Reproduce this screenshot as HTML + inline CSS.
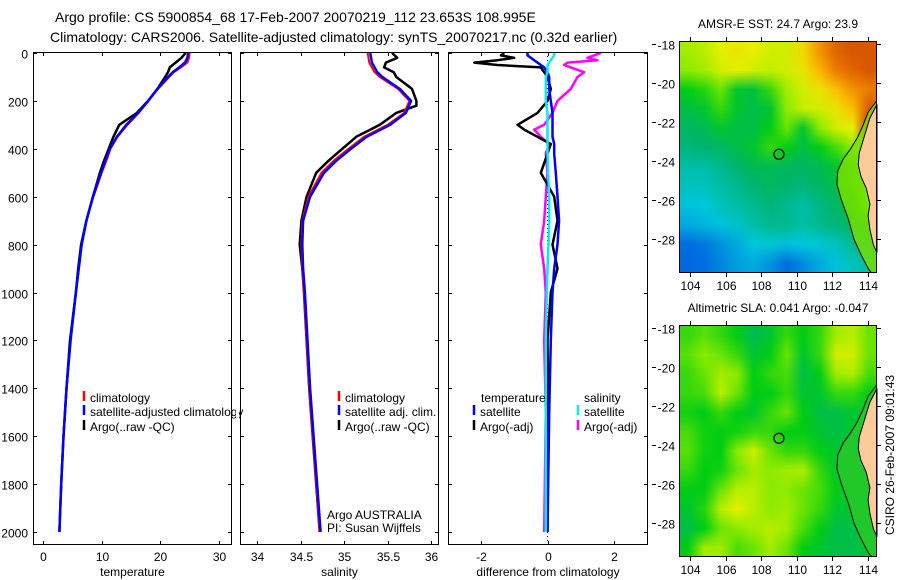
<!DOCTYPE html>
<html><head><meta charset="utf-8"><style>
html,body{margin:0;padding:0;background:#fff;}
svg{display:block;font-family:"Liberation Sans",sans-serif;}
canvas{position:absolute;image-rendering:auto;}
</style></head><body>
<div style="position:relative;width:900px;height:580px;overflow:hidden">
<canvas id="sstMap" width="12" height="12" style="left:679px;top:41px;width:198px;height:231px"></canvas>
<canvas id="slaMap" width="12" height="12" style="left:679px;top:325px;width:198px;height:232px"></canvas>
<svg id="fig" width="900" height="580" style="position:absolute;left:0;top:0"></svg>
</div>
<script>
// ---- profile data ----
const depthT=[0,20,40,60,80,100,150,200,250,300,350,400,450,500,600,700,800,900,1000,1200,1400,1600,1800,2000];
const tClim=[25.0,24.9,24.6,23.5,22.3,21.5,19.6,18.0,16.3,14.4,12.7,11.5,10.8,10.0,8.6,7.4,6.6,6.1,5.6,4.7,4.0,3.5,3.1,2.8];
const tSat=[24.7,24.6,24.2,23.2,22.1,21.3,19.5,17.9,16.2,14.2,12.6,11.4,10.6,9.9,8.5,7.4,6.6,6.1,5.6,4.7,4.0,3.5,3.1,2.8];
const tArgo=[24.3,23.6,22.6,21.6,21.3,20.8,19.5,17.9,16.0,13.0,12.0,11.2,10.4,9.7,8.5,7.4,6.5,6.0,5.6,4.6,4.0,3.5,3.1,2.8];
const depthS=[0,20,40,60,80,100,150,200,250,300,350,400,450,500,600,700,800,900,1000,1200,1400,1600,1800,2000];
const sClim=[35.27,35.28,35.29,35.32,35.35,35.41,35.62,35.75,35.69,35.50,35.23,35.05,34.88,34.74,34.59,34.52,34.51,34.52,34.54,34.57,34.60,34.64,34.68,34.72];
const sSat=[35.30,35.31,35.32,35.35,35.38,35.44,35.64,35.77,35.71,35.53,35.26,35.08,34.91,34.77,34.61,34.53,34.52,34.53,34.55,34.58,34.61,34.65,34.69,34.73];
const depthSA=[0,20,40,60,80,100,150,200,220,250,300,350,400,450,500,600,700,800,900,1000,1200,1400,1600,1800,2000];
const sArgo=[35.55,35.61,35.48,35.46,35.57,35.60,35.78,35.83,35.83,35.60,35.41,35.14,34.98,34.82,34.68,34.57,34.51,34.49,34.52,34.54,34.57,34.60,34.64,34.68,34.72];
const depthD=[0,10,20,30,40,50,60,80,100,150,200,250,300,320,350,380,420,500,600,700,800,900,1000,1200,1500,2000];
const dSatT=[-0.6,-0.6,-0.5,-0.4,-0.3,-0.2,-0.1,0,0.05,0.05,0.1,0.15,0.15,0.15,0.15,0.2,0.2,0.25,0.3,0.35,0.3,0.2,0.15,0.1,0.05,0];
const dArgoT=[-1.3,-1.4,-1.0,-1.5,-2.2,-1.5,-0.2,-0.1,0,0.1,0,-0.3,-0.9,-0.7,-0.3,0.1,0,-0.2,0.2,0.3,0.15,0.3,0.1,0,0.02,0];
const dSatS=[0.2,0.2,0.15,0.1,0.05,0,0,0,-0.05,-0.05,-0.05,0,0,0,0,0,0,0.02,0.05,0.05,0.03,0,-0.02,-0.05,-0.05,-0.05];
const dArgoS=[1.6,1.4,1.2,1.5,0.6,0.5,0.7,1.1,0.9,0.7,0.3,0.15,-0.1,-0.4,-0.2,0.05,-0.05,0,-0.05,-0.1,-0.2,-0.1,-0.05,-0.1,-0.05,-0.1];
const depthTicks=[0,200,400,600,800,1000,1200,1400,1600,1800,2000];
const tTicks=[0,10,20,30];
const sTicks=[34,34.5,35,35.5,36];
const dTicks=[-2,0,2];
// ---- map data ----
const lonTicks=[104,106,108,110,112,114];
const latTicks=[-18,-20,-22,-24,-26,-28];
const sstGrid=[
[.62,.64,.68,.70,.68,.66,.66,.72,.82,.88,.90,.90],
[.60,.62,.66,.68,.66,.65,.66,.70,.78,.85,.88,.90],
[.52,.54,.58,.50,.49,.55,.62,.66,.70,.76,.82,.85],
[.48,.50,.55,.50,.48,.50,.60,.65,.66,.70,.76,.90],
[.46,.47,.50,.48,.48,.52,.58,.50,.60,.66,.68,.95],
[.44,.45,.46,.48,.50,.55,.52,.48,.52,.56,.60,.60],
[.40,.40,.42,.45,.47,.47,.46,.46,.47,.50,.55,.60],
[.38,.38,.40,.42,.45,.46,.45,.44,.46,.48,.55,.60],
[.34,.35,.38,.40,.42,.44,.42,.40,.43,.46,.50,.60],
[.30,.32,.34,.37,.40,.42,.42,.40,.42,.44,.46,.50],
[.20,.22,.26,.30,.35,.36,.34,.35,.36,.38,.42,.45],
[.18,.20,.24,.28,.30,.26,.20,.25,.30,.34,.38,.40]];
const slaGrid=[
[.55,.57,.55,.52,.47,.50,.55,.52,.55,.62,.64,.58],
[.57,.60,.58,.55,.50,.52,.58,.50,.55,.66,.66,.58],
[.55,.58,.62,.60,.52,.55,.56,.48,.52,.62,.63,.56],
[.55,.56,.64,.58,.52,.52,.55,.50,.50,.55,.55,.52],
[.53,.52,.55,.52,.50,.55,.58,.52,.48,.48,.50,.50],
[.56,.53,.52,.53,.55,.55,.52,.52,.50,.48,.50,.50],
[.57,.53,.52,.60,.66,.58,.55,.55,.52,.50,.50,.50],
[.55,.52,.53,.58,.62,.60,.62,.63,.55,.50,.50,.50],
[.52,.52,.58,.64,.64,.60,.60,.58,.56,.52,.50,.50],
[.50,.54,.64,.68,.64,.60,.62,.58,.55,.50,.50,.50],
[.48,.52,.58,.60,.62,.64,.62,.56,.52,.48,.48,.50],
[.52,.62,.62,.56,.58,.62,.58,.52,.50,.48,.48,.50]];
const floatLon=108.995, floatLat=-23.653;

const NS='http://www.w3.org/2000/svg';
const svg=document.getElementById('fig');
function mk(tag,attrs,parent){const e=document.createElementNS(NS,tag);for(const k in attrs)e.setAttribute(k,attrs[k]);(parent||svg).appendChild(e);return e;}
function txt(x,y,s,size,anchor,parent){const t=mk('text',{x:x,y:y,'font-size':size,'text-anchor':anchor||'start',fill:'#000'},parent);t.textContent=s;return t;}

const yTop=53, yPer=(532-53)/2000;
const yD=d=>yTop+d*yPer;
const PT={y0:52,y1:545};
const panels=[
 {name:'temperature',x0:33,x1:232,vmin:-1.7,vmax:32.2,ticks:tTicks,label:'temperature'},
 {name:'salinity',x0:240,x1:439,vmin:33.805,vmax:36.09,ticks:sTicks,label:'salinity'},
 {name:'difference',x0:448,x1:648,vmin:-2.99,vmax:3.02,ticks:dTicks,label:'difference from climatology'}];
panels.forEach(p=>{p.x=v=>p.x0+(v-p.vmin)/(p.vmax-p.vmin)*(p.x1-p.x0);});

panels.forEach((p,i)=>{
  const g=mk('g',{});
  
  
  const cid='clip'+i;
  const cp=mk('clipPath',{id:cid},g);mk('rect',{x:p.x0,y:PT.y0,width:p.x1-p.x0,height:PT.y1-PT.y0},cp);
  p.g=mk('g',{'clip-path':'url(#'+cid+')'},g);
  const frame=mk('rect',{x:p.x0+0.5,y:PT.y0+0.5,width:p.x1-p.x0-1,height:PT.y1-PT.y0-1,fill:'none',stroke:'#000','stroke-width':1},g);
  
  
  depthTicks.forEach(d=>{const y=Math.round(yD(d))+0.5;
    mk('line',{x1:p.x0,x2:p.x0+4,y1:y,y2:y,stroke:'#000'},g);
    mk('line',{x1:p.x1-4,x2:p.x1,y1:y,y2:y,stroke:'#000'},g);
    if(i===0){const t=txt(28,y+5,String(d),12,'end');}
  });
  p.ticks.forEach(v=>{const x=Math.round(p.x(v))+0.5;
    mk('line',{x1:x,x2:x,y1:PT.y0,y2:PT.y0+4,stroke:'#000'},g);
    mk('line',{x1:x,x2:x,y1:PT.y1-4,y2:PT.y1,stroke:'#000'},g);
    const t=txt(x,561,String(v),12,'middle',g);
  });
  const xl=txt((p.x0+p.x1)/2,576,p.label,12,'middle',g);
  
  
});

function series(p,depths,vals,color,w,name){
  let d='';vals.forEach((v,k)=>{d+=(k?'L':'M')+p.x(v).toFixed(1)+','+yD(depths[k]).toFixed(1);});
  const e=mk('path',{d:d,fill:'none',stroke:color,'stroke-width':w,'stroke-linejoin':'round'},p.g);
  
  
}
const [P1,P2,P3]=panels;
series(P1,depthT,tArgo,'#000',2.5,'temperature-argo-line');
series(P1,depthT,tClim,'#f00',2,'temperature-climatology-line');
series(P1,depthT,tSat,'#00f',2.5,'temperature-satellite-line');
series(P2,depthSA,sArgo,'#000',2.5,'salinity-argo-line');
series(P2,depthS,sClim,'#f00',2,'salinity-climatology-line');
series(P2,depthS,sSat,'#00f',2.5,'salinity-satellite-line');
const zl=mk('line',{x1:P3.x(0),x2:P3.x(0),y1:PT.y0,y2:PT.y1,stroke:'#000','stroke-dasharray':'1,3'},P3.g);

series(P3,depthD,dArgoS,'#f0f',2.5,'diff-argo-salinity-line');
series(P3,depthD,dArgoT,'#000',2.5,'diff-argo-temperature-line');
series(P3,depthD,dSatT,'#00f',2.5,'diff-satellite-temperature-line');
series(P3,depthD,dSatS,'#0ee',2.5,'diff-satellite-salinity-line');

function legend(x,y,color,label,name){
  const g=mk('g',{});
  mk('line',{x1:x,x2:x,y1:y-11,y2:y-1,stroke:color,'stroke-width':2.5},g);
  txt(x+6,y,label,12,'start',g);
}
legend(84,402,'#f00','climatology','legend-climatology');
legend(84,416,'#00f','satellite-adjusted climatology','legend-satellite-adjusted');
legend(84,431,'#000','Argo(..raw -QC)','legend-argo-raw');
mk('rect',{x:236,y:405,width:3,height:14,fill:'#fff'});
mk('line',{x1:240.5,x2:240.5,y1:405,y2:419,stroke:'#000'});
legend(339,402,'#f00','climatology','legend2-climatology');
legend(339,416,'#00f','satellite adj. clim.','legend2-satellite');
legend(339,431,'#000','Argo(..raw -QC)','legend2-argo');
txt(481,402,'temperature',12,'start');
txt(584,402,'salinity',12,'start');
legend(474,416,'#00f','satellite','legend3-temp-satellite');
legend(474,431,'#000','Argo(-adj)','legend3-temp-argo');
legend(578,416,'#0ee','satellite','legend3-sal-satellite');
legend(578,431,'#f0f','Argo(-adj)','legend3-sal-argo');
txt(327,519,'Argo AUSTRALIA',12,'start');
txt(327,532,'PI: Susan Wijffels',12,'start');

const t1=txt(55,22,'Argo profile: CS 5900854_68 17-Feb-2007 20070219_112 23.653S 108.995E',14);

const t2=txt(50,42,'Climatology: CARS2006. Satellite-adjusted climatology: synTS_20070217.nc (0.32d earlier)',14);


// ---- maps ----
const stops=[[0,[0,60,190]],[.2,[0,110,225]],[.35,[0,200,220]],[.45,[0,180,110]],[.52,[0,205,20]],[.6,[140,235,0]],[.68,[230,240,0]],[.78,[255,180,0]],[.88,[225,100,0]],[1,[170,20,0]]];
function cmap(v){for(let k=1;k<stops.length;k++){if(v<=stops[k][0]){const a=stops[k-1],b=stops[k],f=(v-a[0])/(b[0]-a[0]);return a[1].map((c,j)=>Math.round(c+(b[1][j]-c)*f));}}return stops[stops.length-1][1];}
function paint(id,grid){const c=document.getElementById(id).getContext('2d');const im=c.createImageData(12,12);
  grid.forEach((row,r)=>row.forEach((v,q)=>{const col=cmap(v),o=(r*12+q)*4;im.data[o]=col[0];im.data[o+1]=col[1];im.data[o+2]=col[2];im.data[o+3]=255;}));c.putImageData(im,0,0);}
paint('sstMap',sstGrid);paint('slaMap',slaGrid);

const lonMin=103.38,lonMax=114.5,latMax=-17.85,latMin=-29.74;
const land=[[114.5,-21.1],[114.1,-21.8],[113.9,-22.4],[113.7,-23.0],[113.5,-23.6],[113.45,-24.2],[113.6,-24.8],[113.9,-25.4],[114.1,-26.2],[114.0,-26.8],[114.1,-27.5],[114.3,-28.3],[114.5,-28.7]];
const shelf=[[114.5,-20.9],[114.0,-21.5],[113.7,-22.2],[113.4,-22.8],[113.0,-23.4],[112.6,-23.9],[112.3,-24.5],[112.25,-25.2],[112.5,-26.0],[112.9,-27.0],[113.2,-28.0],[113.6,-28.8],[114.0,-29.5],[114.2,-29.74]];
function drawMap(top,title,name,shelfFill){
  const L=679,R=877,T=top,B=top+232;
  const mx=lon=>L+(lon-lonMin)/(lonMax-lonMin)*(R-L);
  const my=lat=>T+(latMax-lat)/(latMax-latMin)*(B-T);
  const g=mk('g',{});
  const pts=a=>a.map(p=>mx(p[0]).toFixed(1)+','+my(p[1]).toFixed(1)).join('L');
  mk('path',{d:'M'+pts(shelf)+'L'+R+','+B+'L'+R+','+my(-20.9)+'Z',fill:shelfFill,stroke:'none'},g);
  const lp=mk('path',{d:'M'+pts(land)+'L'+R+','+my(-28.7)+'L'+R+','+my(-21.1)+'Z',fill:'#ffcc99',stroke:'#000','stroke-width':1},g);
  
  mk('path',{d:'M'+pts(shelf),fill:'none',stroke:'#000','stroke-width':1},g);
  const fc=mk('circle',{cx:mx(floatLon),cy:my(floatLat),r:5,fill:'none',stroke:'#000','stroke-width':1.2},g);
  
  mk('rect',{x:L+0.5,y:T+0.5,width:R-L-1,height:B-T-1,fill:'none',stroke:'#000'},g);
  lonTicks.forEach(v=>{const x=Math.round(mx(v))+0.5;
    mk('line',{x1:x,x2:x,y1:T-4,y2:T,stroke:'#000'},g);mk('line',{x1:x,x2:x,y1:B,y2:B+4,stroke:'#000'},g);
    txt(x,B+17,String(v),12,'middle',g);});
  latTicks.forEach(v=>{const y=Math.round(my(v))+0.5;
    mk('line',{x1:R,x2:R+4,y1:y,y2:y,stroke:'#000'},g);mk('line',{x1:652,x2:656,y1:y,y2:y,stroke:'#000'},g);
    txt(675,y+5,String(v),12,'end',g);});
  const tt=txt((L+R)/2,top-13,title,12,'middle',g);
  
}
drawMap(41,'AMSR-E SST: 24.7 Argo: 23.9','sst-map','rgba(120,225,0,0.8)');
drawMap(325,'Altimetric SLA: 0.041 Argo: -0.047','sla-map','rgba(40,200,40,0.85)');
const ts=txt(0,0,'CSIRO 26-Feb-2007 09:01:43',12,'middle');
ts.setAttribute('transform','translate(894,455) rotate(-90)');

</script>
</body></html>
